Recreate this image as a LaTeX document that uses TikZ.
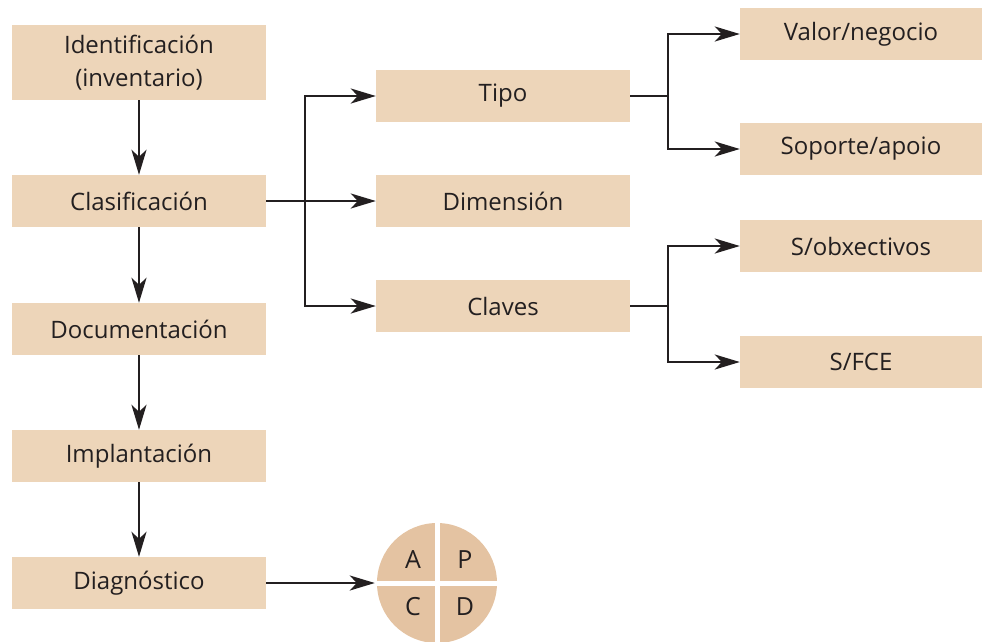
\documentclass[tikz,border=0pt]{standalone}
\usepackage{fontspec}
\setmainfont{Open Sans}
\usetikzlibrary{arrows.meta}
\definecolor{boxfill}{HTML}{EDD5B9}
\definecolor{discfill}{HTML}{E4C3A2}
\definecolor{ink}{HTML}{231F20}
\begin{document}
\begin{tikzpicture}[x=1pt,y=-1pt,
  stepbox/.style={fill=boxfill, draw=none, minimum width=254pt, minimum height=52pt,
    inner sep=0pt, align=center, font=\fontsize{24}{33}\selectfont, text=ink},
  sidebox/.style={stepbox, minimum width=242pt},
  link/.style={draw=ink, line width=2.4pt, -{Stealth[length=25pt,width=15pt,inset=7pt]}},
  wire/.style={draw=ink, line width=2.4pt},
  letter/.style={font=\fontsize{25}{26}\selectfont, text=ink}]
\useasboundingbox (0,0) rectangle (982,641);
% main sequence
\node[stepbox, minimum height=75pt] (ident) at (139,62.5) {Identificación\\(inventario)};
\node[stepbox] (clas) at (139,201) {Clasificación};
\node[stepbox] (doc) at (139,329) {Documentación};
\node[stepbox] (impl) at (139,456) {Implantación};
\node[stepbox] (diag) at (139,583) {Diagnóstico};
% classification branches
\node[stepbox] (tipo) at (503,96) {Tipo};
\node[stepbox] (dim) at (503,201) {Dimensión};
\node[stepbox] (claves) at (503,306) {Claves};
% leaves
\node[sidebox] (valor) at (861,34) {Valor/negocio};
\node[sidebox] (soporte) at (861,149) {Soporte/apoio};
\node[sidebox] (obx) at (861,246) {S/obxectivos};
\node[sidebox] (fce) at (861,362) {S/FCE};
% vertical flow
\draw[link] (ident.south) -- (clas.north);
\draw[link] (clas.south) -- (doc.north);
\draw[link] (doc.south) -- (impl.north);
\draw[link] (impl.south) -- (diag.north);
% fan-out from classification
\coordinate (c1) at (305,201);
\draw[link] (clas.east) -- (dim.west);
\draw[link] (c1) |- (tipo.west);
\draw[link] (c1) |- (claves.west);
% fan-out from type
\coordinate (t1) at (668,96);
\draw[wire] (tipo.east) -- (t1);
\draw[link] (t1) |- (valor.west);
\draw[link] (t1) |- (soporte.west);
% fan-out from keys
\coordinate (k1) at (668,306);
\draw[wire] (claves.east) -- (k1);
\draw[link] (k1) |- (obx.west);
\draw[link] (k1) |- (fce.west);
% PDCA disc
\coordinate (pdca) at (437,583);
\fill[discfill] (pdca) circle (60);
\draw[white, line width=5pt] ([xshift=-62pt]pdca) -- ([xshift=62pt]pdca);
\draw[white, line width=5pt] ([yshift=-62pt]pdca) -- ([yshift=62pt]pdca);
\node[letter] (pa) at (413,560) {A};
\node[letter] (pp) at (465,560) {P};
\node[letter] (pc) at (413,607) {C};
\node[letter] (pd) at (465,607) {D};
\node[inner sep=0pt, minimum size=2pt] (disc) at (376,583) {};
\draw[link] (diag.east) -- (disc.west);
\end{tikzpicture}
\end{document}
